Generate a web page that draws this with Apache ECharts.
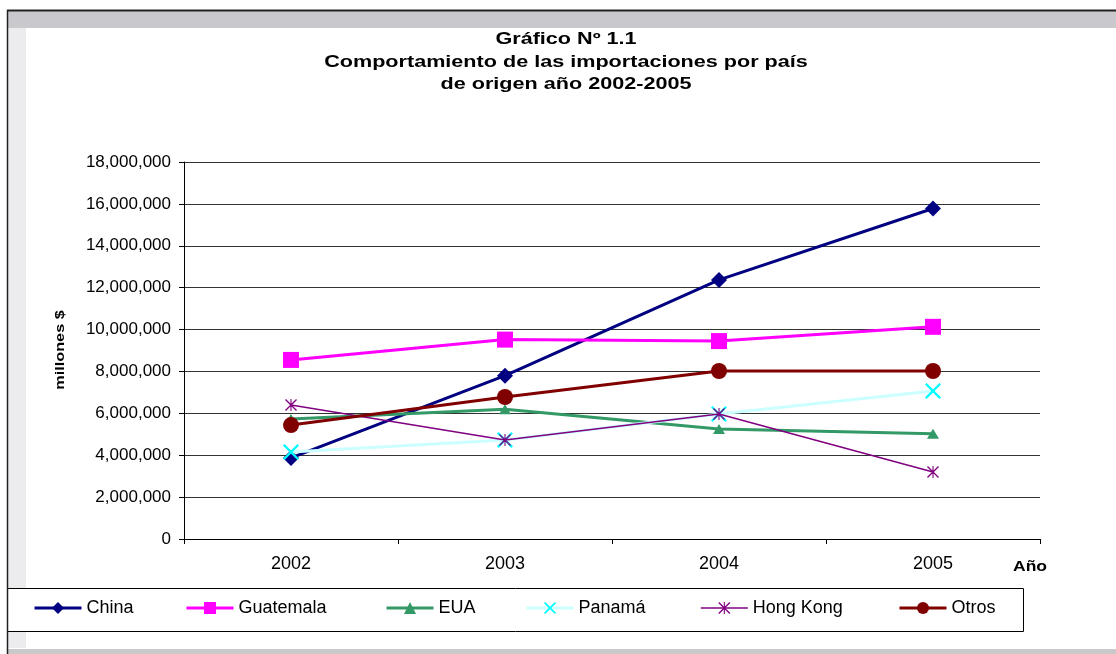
<!DOCTYPE html>
<html>
<head>
<meta charset="utf-8">
<script src="https://cdn.jsdelivr.net/npm/echarts@6/dist/echarts.min.js"></script>
<style>
  html, body { margin: 0; padding: 0; background: #ffffff; }
  #chart { width: 1116px; height: 654px; }
</style>
</head>
<body>
<div id="chart"></div>
<script>
// Imports by country of origin, 2002-2005
const years = ['2002', '2003', '2004', '2005'];
const china     = [3870000, 7800000, 12370000, 15780000];
const guatemala = [8550000, 9520000, 9450000, 10130000];
const eua       = [5730000, 6200000, 5250000, 5020000];
const panama    = [4150000, 4730000, 5970000, 7070000];
const hongKong  = [6400000, 4730000, 5970000, 3200000];
const otros     = [5440000, 6780000, 8020000, 8020000];
const seriesNames = ['China', 'Guatemala', 'EUA', 'Panamá', 'Hong Kong', 'Otros'];
const titleLines = ['Gráfico Nº 1.1', 'Comportamiento de las importaciones por país', 'de origen año 2002-2005'];

const FONT = 'Arial, "Liberation Sans", sans-serif';

// Marker outlines built from filled bars so they render as strokes
const xMark = 'path://M0,1L1,0L10,9L9,10ZM9,0L10,1L1,10L0,9Z';
const starMark = 'path://M0,0.8L0.8,0L10,9.2L9.2,10ZM9.2,0L10,0.8L0.8,10L0,9.2ZM4.55,0L5.45,0L5.45,10L4.55,10Z';

const styles = [
  { data: china,     color: '#000080', lineColor: '#000080', width: 3,   symbol: 'diamond',  size: [16, 16] },
  { data: guatemala, color: '#ff00ff', lineColor: '#ff00ff', width: 3,   symbol: 'rect',     size: [16, 16] },
  { data: eua,       color: '#339966', lineColor: '#339966', width: 3,   symbol: 'triangle', size: [12, 10] },
  { data: panama,    color: '#00ffff', lineColor: '#ccffff', width: 3,   symbol: xMark,      size: [16, 16] },
  { data: hongKong,  color: '#800080', lineColor: '#800080', width: 1.6, symbol: starMark,   size: [12, 12] },
  { data: otros,     color: '#800000', lineColor: '#800000', width: 3,   symbol: 'circle',   size: [16, 16] }
];

const series = styles.map((s, i) => ({
  name: seriesNames[i],
  type: 'line',
  data: s.data,
  symbol: s.symbol,
  symbolSize: s.size,
  showAllSymbol: true,
  z: 3 + i,
  itemStyle: { color: s.color, borderWidth: 0 },
  lineStyle: { color: s.lineColor, width: s.width },
  emphasis: { disabled: true },
  animation: false
}));

// One legend entry per block, placed along the boxed legend strip
const legendLeft = [33, 185, 385, 525, 700, 898];
const legends = seriesNames.map((n, i) => ({
  data: [n],
  left: legendLeft[i],
  top: 599,
  padding: 0,
  itemWidth: 47,
  itemHeight: 15,
  lineStyle: { width: styles[i].width },
  textStyle: { fontFamily: FONT, fontSize: 18, color: '#000000' },
  selectedMode: false
}));

// Title lines, drawn slightly widened
const titleGraphics = titleLines.map((t, i) => ({
  type: 'text', x: 566, y: 40 + i * 22.5, scaleX: 1.35,
  style: { text: t, font: 'bold 16px ' + FONT, fill: '#000000', textAlign: 'center', textVerticalAlign: 'middle' }
}));

const chart = echarts.init(document.getElementById('chart'), null, { renderer: 'canvas' });
chart.setOption({
  backgroundColor: '#ffffff',
  animation: false,
  legend: legends,
  grid: { left: 184, right: 76, top: 162, bottom: 115, containLabel: false },
  xAxis: {
    type: 'category',
    data: years,
    boundaryGap: true,
    axisLine: { lineStyle: { color: '#000000', width: 1 } },
    axisTick: { show: true, length: 5, inside: false, lineStyle: { color: '#000000' } },
    axisLabel: { fontFamily: FONT, fontSize: 18, color: '#000000', margin: 16 },
    splitLine: { show: false }
  },
  yAxis: {
    type: 'value',
    min: 0,
    max: 18000000,
    interval: 2000000,
    axisLine: { show: true, lineStyle: { color: '#000000', width: 1 } },
    axisTick: { show: true, length: 5, lineStyle: { color: '#000000' } },
    axisLabel: {
      fontFamily: FONT, fontSize: 17, color: '#000000', margin: 13,
      formatter: v => v.toLocaleString('en-US')
    },
    splitLine: { show: true, lineStyle: { color: '#333333', width: 1 } }
  },
  graphic: [
    // outer frame bands
    { type: 'rect', shape: { x: 8, y: 11, width: 1108, height: 17 }, style: { fill: '#c9c9cd' }, z: -10 },
    { type: 'rect', shape: { x: 8, y: 28, width: 18, height: 620 }, style: { fill: '#ececef' }, z: -10 },
    { type: 'rect', shape: { x: 8, y: 649, width: 1108, height: 5 }, style: { fill: '#c9c9cb' }, z: -10 },
    { type: 'line', shape: { x1: 7, y1: 10.5, x2: 1116, y2: 10.5 }, style: { stroke: '#222222', lineWidth: 2 }, z: 10 },
    { type: 'line', shape: { x1: 7.5, y1: 10, x2: 7.5, y2: 654 }, style: { stroke: '#222222', lineWidth: 1.5 }, z: 10 },
    // legend box
    { type: 'rect', shape: { x: 7.5, y: 588.5, width: 1016, height: 43 }, style: { fill: '#ffffff', stroke: '#000000', lineWidth: 1 }, z: -5 },
    // axis titles
    {
      type: 'text', x: 60, y: 350, rotation: Math.PI / 2, scaleX: 1.25,
      style: { text: 'millones $', font: 'bold 13px ' + FONT, fill: '#000000', textAlign: 'center', textVerticalAlign: 'middle' }
    },
    {
      type: 'text', x: 1030, y: 567, scaleX: 1.25,
      style: { text: 'Año', font: 'bold 14px ' + FONT, fill: '#000000', textAlign: 'center', textVerticalAlign: 'middle' }
    }
  ].concat(titleGraphics),
  series: series
});
</script>
</body>
</html>
